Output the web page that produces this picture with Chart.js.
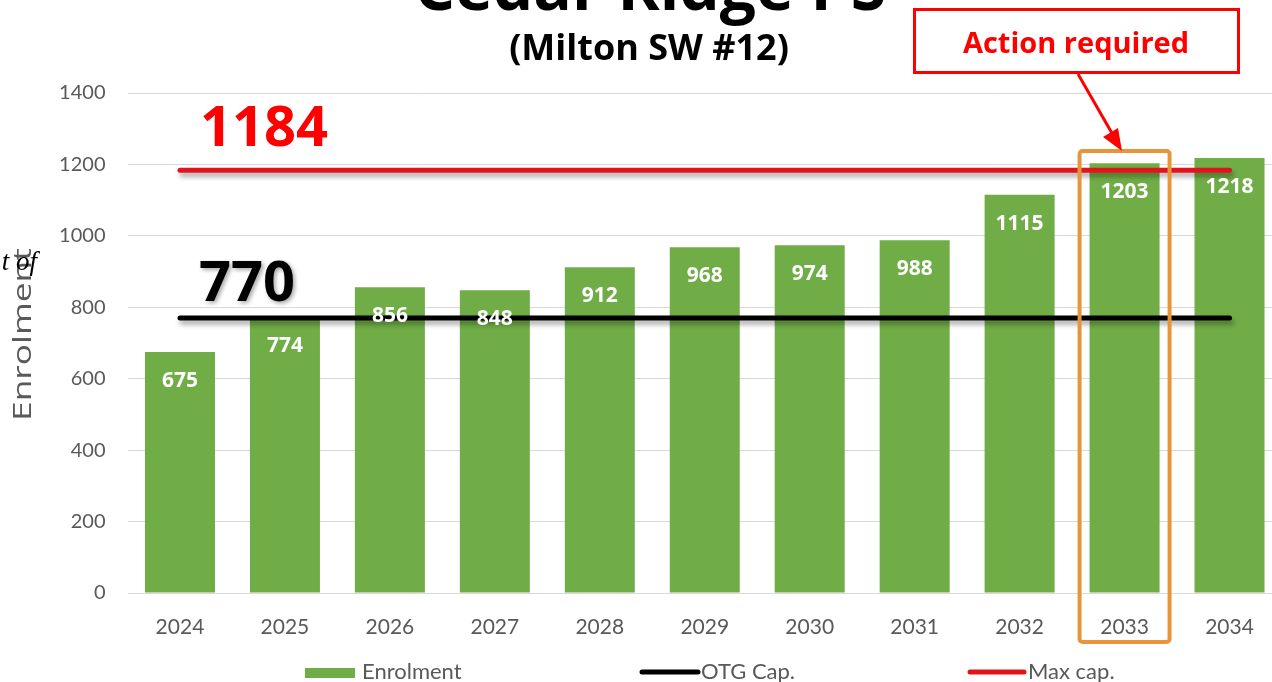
<!DOCTYPE html>
<html>
<head>
<meta charset="utf-8">
<script src="https://cdn.jsdelivr.net/npm/chart.js@4.4.1/dist/chart.umd.min.js"></script>
<style>
  html, body { margin: 0; padding: 0; background: #ffffff; overflow: hidden; width: 1272px; height: 682px; }
  #wrap { position: absolute; left: 0; top: 0; width: 1282px; height: 682px; }
</style>
</head>
<body>
<div id="wrap"><canvas id="c" width="1282" height="682"></canvas></div>
<script>
const years = ['2024','2025','2026','2027','2028','2029','2030','2031','2032','2033','2034'];
const enrolment = [675, 774, 856, 848, 912, 968, 974, 988, 1115, 1203, 1218];
const otgCap = [770, 770, 770, 770, 770, 770, 770, 770, 770, 770, 770];
const maxCap = [1184, 1184, 1184, 1184, 1184, 1184, 1184, 1184, 1184, 1184, 1184];
const yTicks = [0, 200, 400, 600, 800, 1000, 1200, 1400];
const titleText = 'Cedar Ridge PS';
const subtitleText = '(Milton SW #12)';
const highlightYear = '2033';

const GREEN = '#70AD47';
const RED_LINE = '#E2141B';
const GRAY = '#595959';

const shadowPlugin = {
  id: 'lineShadow',
  beforeDatasetDraw(chart, args) {
    if (args.meta.type === 'line') {
      const ctx = chart.ctx;
      ctx.save();
      ctx.shadowColor = 'rgba(0,0,0,0.35)';
      ctx.shadowBlur = 5;
      ctx.shadowOffsetX = 2;
      ctx.shadowOffsetY = 4;
    }
  },
  afterDatasetDraw(chart, args) {
    if (args.meta.type === 'line') chart.ctx.restore();
  }
};

const overlayPlugin = {
  id: 'overlay',
  afterDatasetsDraw(chart) {
    const ctx = chart.ctx;
    const meta = chart.getDatasetMeta(0);
    ctx.save();
    ctx.fillStyle = '#ffffff';
    ctx.font = 'bold 21px "Open Sans"';
    ctx.textAlign = 'center';
    ctx.textBaseline = 'middle';
    meta.data.forEach((bar, i) => {
      ctx.fillText(String(enrolment[i]), bar.x, bar.y + 29);
    });
    ctx.restore();
  },
  afterDraw(chart) {
    const ctx = chart.ctx;
    const xs = chart.scales.x;
    ctx.save();
    // Title (cut off at top)
    ctx.fillStyle = '#000';
    ctx.textAlign = 'center';
    ctx.textBaseline = 'alphabetic';
    ctx.font = 'bold 64px "Open Sans"';
    ctx.fillText(titleText, 650, 10);
    ctx.font = 'bold 36px "Open Sans"';
    ctx.fillText(subtitleText, 649, 60);

    // big cap numbers
    ctx.textAlign = 'left';
    ctx.font = 'bold 56px "Open Sans"';
    ctx.fillStyle = '#FF0000';
    ctx.fillText(String(maxCap[0]), 200, 146);
    ctx.save();
    ctx.shadowColor = 'rgba(0,0,0,0.35)';
    ctx.shadowBlur = 4; ctx.shadowOffsetX = 2; ctx.shadowOffsetY = 2;
    ctx.fillStyle = '#000';
    ctx.fillText(String(otgCap[0]), 199, 301);
    ctx.restore();

    // y axis title (stretched)
    ctx.save();
    ctx.translate(31, 421);
    ctx.rotate(-Math.PI / 2);
    ctx.scale(1.36, 1);
    ctx.fillStyle = GRAY;
    ctx.font = '26px "Open Sans"';
    ctx.textAlign = 'left';
    ctx.fillText('Enrolment', 0, 0);
    ctx.restore();
    // clipped italic text fragment
    ctx.save();
    ctx.fillStyle = '#000';
    ctx.font = 'italic 27px "Liberation Serif"';
    ctx.textAlign = 'right';
    ctx.fillText('t of', 37, 270);
    ctx.restore();

    // highlight box around 2033
    const hx = xs.getPixelForValue(years.indexOf(highlightYear));
    ctx.strokeStyle = '#E8953A';
    ctx.lineWidth = 4;
    ctx.beginPath();
    ctx.roundRect(hx - 45, 151, 90, 491, 3);
    ctx.stroke();

    // Action required box
    ctx.fillStyle = '#fff';
    ctx.fillRect(914, 9, 324, 63);
    ctx.strokeStyle = '#FF0000';
    ctx.lineWidth = 3;
    ctx.strokeRect(914.5, 9.5, 324, 63);
    ctx.fillStyle = '#FF0000';
    ctx.font = 'bold 29px "Open Sans"';
    ctx.textAlign = 'center';
    ctx.textBaseline = 'middle';
    ctx.fillText('Action required', 1076, 45);

    // arrow
    ctx.strokeStyle = '#FF0000';
    ctx.lineWidth = 3;
    ctx.beginPath();
    ctx.moveTo(1078, 74);
    ctx.lineTo(1113, 135);
    ctx.stroke();
    ctx.fillStyle = '#FF0000';
    ctx.beginPath();
    ctx.moveTo(1122, 151);
    ctx.lineTo(1103, 137);
    ctx.lineTo(1118, 128);
    ctx.closePath();
    ctx.fill();

    // legend
    ctx.textAlign = 'left';
    ctx.textBaseline = 'middle';
    ctx.font = '22px Lato';
    ctx.fillStyle = GREEN;
    ctx.fillRect(305, 668, 50, 10);
    ctx.fillStyle = GRAY;
    ctx.fillText('Enrolment', 362, 672);
    ctx.lineCap = 'round';
    ctx.lineWidth = 5;
    ctx.strokeStyle = '#000';
    ctx.beginPath(); ctx.moveTo(642, 672); ctx.lineTo(698, 672); ctx.stroke();
    ctx.fillText('OTG Cap.', 701, 672);
    ctx.strokeStyle = RED_LINE;
    ctx.beginPath(); ctx.moveTo(970, 672); ctx.lineTo(1024, 672); ctx.stroke();
    ctx.fillText('Max cap.', 1028, 672);
    ctx.restore();
  }
};

new Chart(document.getElementById('c'), {
  data: {
    labels: years,
    datasets: [
      { type: 'bar', label: 'Enrolment', data: enrolment, backgroundColor: GREEN,
        categoryPercentage: 1, barPercentage: 0.667, order: 3 },
      { type: 'line', label: 'OTG Cap.', data: otgCap, borderColor: '#000', borderWidth: 5,
        pointRadius: 0, borderCapStyle: 'round', fill: false, order: 2 },
      { type: 'line', label: 'Max cap.', data: maxCap, borderColor: RED_LINE, borderWidth: 5,
        pointRadius: 0, borderCapStyle: 'round', fill: false, order: 1 }
    ]
  },
  options: {
    responsive: false,
    animation: false,
    layout: { padding: { top: 93, left: 0, right: 0, bottom: 0 } },
    plugins: { legend: { display: false }, tooltip: { enabled: false }, title: { display: false } },
    scales: {
      x: {
        grid: { display: false },
        border: { display: false },
        ticks: { color: GRAY, font: { family: 'Lato', size: 21 }, padding: 14, maxRotation: 0 },
        afterFit(scale) { scale.height = 89; }
      },
      y: {
        min: 0, max: 1400,
        grid: { color: '#D9D9D9', lineWidth: 1, drawTicks: false },
        border: { display: false },
        afterBuildTicks(scale) { scale.ticks = yTicks.map(v => ({ value: v })); },
        ticks: { color: GRAY, font: { family: 'Lato', size: 20 }, padding: 22,
                 callback: (v) => String(v) },
        afterFit(scale) { scale.width = 127.5; }
      }
    }
  },
  plugins: [shadowPlugin, overlayPlugin]
});
</script>
</body>
</html>
